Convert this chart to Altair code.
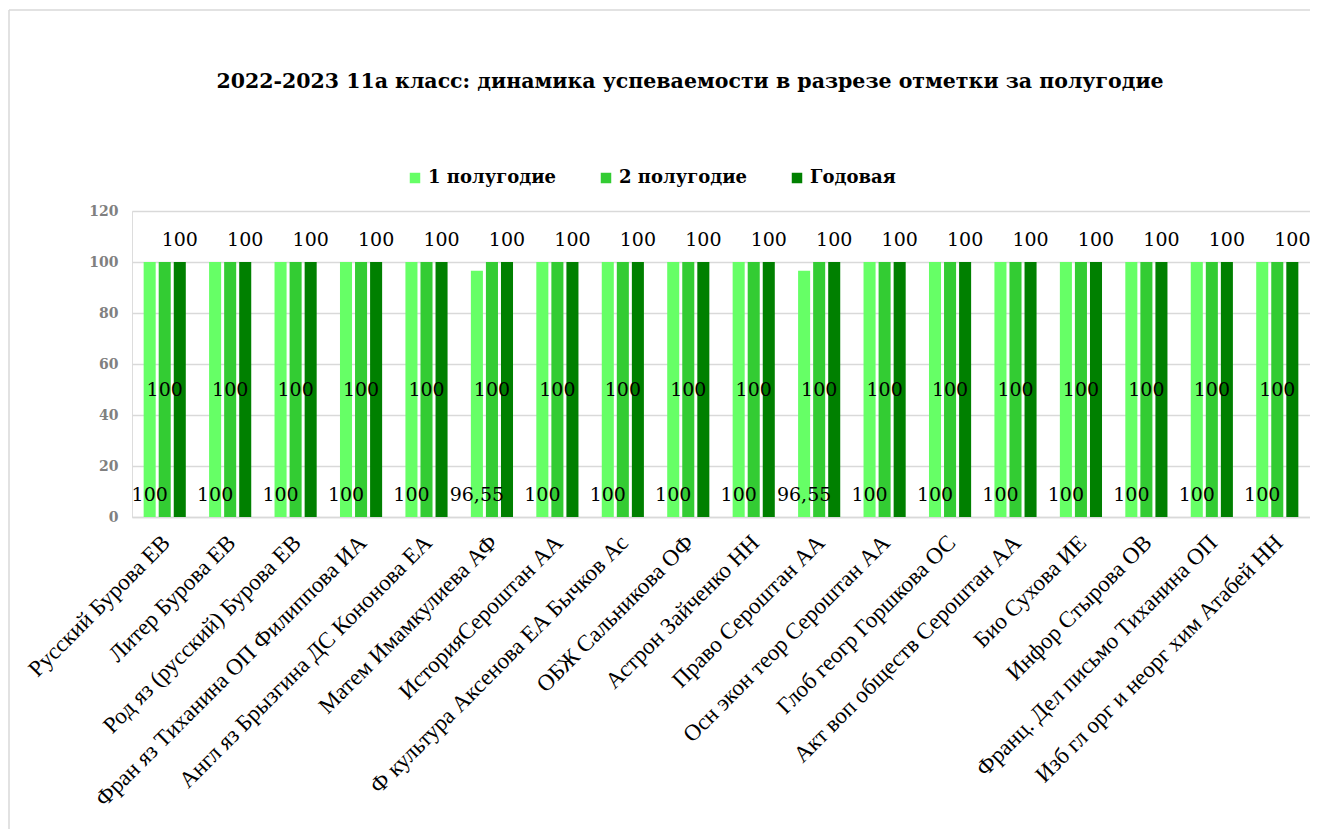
import altair as alt
import pandas as pd

categories = [
    "Русский Бурова ЕВ",
    "Литер Бурова ЕВ",
    "Род яз (русский) Бурова ЕВ",
    "Фран яз Тиханина ОП Филиппова ИА",
    "Англ яз Брызгина ДС Кононова ЕА",
    "Матем Имамкулиева АФ",
    "ИсторияСероштан АА",
    "Ф культура Аксенова ЕА Бычков Ас",
    "ОБЖ Сальникова ОФ",
    "Астрон Зайченко НН",
    "Право Сероштан АА",
    "Осн экон теор Сероштан АА",
    "Глоб геогр Горшкова ОС",
    "Акт воп обществ Сероштан АА",
    "Био Сухова ИЕ",
    "Инфор Стырова ОВ",
    "Франц. Дел письмо Тиханина ОП",
    "Изб гл орг и неорг хим Атабей НН",
]
series = ["1 полугодие", "2 полугодие", "Годовая"]
colors = ["#66FF66", "#33CC33", "#008000"]

half1 = [100, 100, 100, 100, 100, 96.55, 100, 100, 100, 100, 96.55, 100, 100, 100, 100, 100, 100, 100]
half2 = [100] * 18
year = [100] * 18

rows = []
for s, vals in zip(series, [half1, half2, year]):
    for c, v in zip(categories, vals):
        rows.append({"cat": c, "series": s, "value": v})
df = pd.DataFrame(rows)

SERIF = "DejaVu Serif"
W, H = 1178, 306

x_enc = alt.X("cat:N", sort=categories, title=None,
              scale=alt.Scale(paddingInner=0.31, paddingOuter=0.155),
              axis=alt.Axis(labelAngle=-45, labelAlign="right", labelBaseline="top",
                            labelFont="Liberation Serif", labelFontSize=23, labelColor="#000000",
                            labelLimit=0, labelPadding=14, labelOffset=-6, ticks=False,
                            domainColor="#d9d9d9", domainWidth=1.5, grid=False))
xoff = alt.XOffset("series:N", sort=series,
                   scale=alt.Scale(domain=series, paddingInner=0.2, paddingOuter=0.1))

base = alt.Chart(df)

bars = base.mark_bar().encode(
    x=x_enc,
    xOffset=xoff,
    y=alt.Y("value:Q", title=None,
            scale=alt.Scale(domain=[0, 120]),
            axis=alt.Axis(values=[0, 20, 40, 60, 80, 100, 120], domain=False, ticks=False,
                          labelColor="#808080", labelFont=SERIF, labelFontWeight="bold",
                          labelFontSize=14, labelPadding=14,
                          gridColor="#d9d9d9", gridWidth=1.5)),
    color=alt.Color("series:N", sort=series,
                    scale=alt.Scale(domain=series, range=colors),
                    legend=alt.Legend(title=None, orient="none", direction="horizontal",
                                      legendX=274, legendY=-42,
                                      symbolType="square", symbolSize=110, symbolStrokeWidth=0,
                                      labelFont=SERIF, labelFontSize=18, labelFontWeight="bold",
                                      labelColor="#000000",
                                      columnPadding=40, labelOffset=4)),
)

lab = base.transform_calculate(label="replace(toString(datum.value), '.', ',')")

t1 = lab.transform_filter(alt.datum.series == series[0]).transform_calculate(pos="0").mark_text(
    font=SERIF, fontSize=19, color="#000000", dy=-22, baseline="middle").encode(
    x=alt.X("cat:N", sort=categories), xOffset=xoff, y=alt.Y("pos:Q"), text="label:N")
t2 = lab.transform_filter(alt.datum.series == series[1]).transform_calculate(pos="datum.value/2").mark_text(
    font=SERIF, fontSize=19, color="#000000", baseline="middle").encode(
    x=alt.X("cat:N", sort=categories), xOffset=xoff, y=alt.Y("pos:Q"), text="label:N")
t3 = lab.transform_filter(alt.datum.series == series[2]).transform_calculate(pos="datum.value").mark_text(
    font=SERIF, fontSize=19, color="#000000", dy=-22, baseline="middle").encode(
    x=alt.X("cat:N", sort=categories), xOffset=xoff, y=alt.Y("pos:Q"), text="label:N")

frame_left = alt.Chart(pd.DataFrame({"k": [0]})).mark_rule(color="#d9d9d9", strokeWidth=1.5).encode(
    x=alt.value(-123), y=alt.value(-201), y2=alt.value(700))
frame_top = alt.Chart(pd.DataFrame({"k": [0]})).mark_rule(color="#d9d9d9", strokeWidth=1.5).encode(
    x=alt.value(-123), x2=alt.value(1400), y=alt.value(-201))

chart = alt.layer(frame_left, frame_top, bars, t1, t2, t3).properties(
    width=W, height=H,
    padding={"left": 124, "top": 203, "right": 0, "bottom": 312},
    autosize=alt.AutoSizeParams(type="none"),
    title=alt.TitleParams("2022-2023 11а класс: динамика успеваемости в разрезе отметки за полугодие",
                          font=SERIF, fontSize=20.5, fontWeight="bold", color="#000000",
                          anchor="middle", dx=-31, dy=93, offset=0, baseline="middle"),
).configure_view(stroke=None).configure(background="white")

chart.save("out.html", embed_options={"renderer": "svg", "actions": False})
